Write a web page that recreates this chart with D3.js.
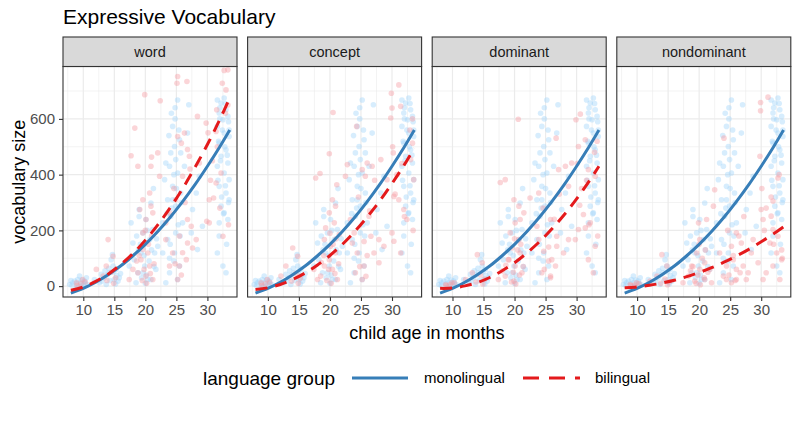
<!DOCTYPE html>
<html><head><meta charset="utf-8">
<script src="https://cdn.jsdelivr.net/npm/d3@7"></script>
<style>body{margin:0;background:#fff}svg{display:block;font-family:"Liberation Sans",Arial,sans-serif}</style>
</head><body><svg id="c" width="798" height="424"></svg>
<script>
const panels = ["word", "concept", "dominant", "nondominant"];
const xTicks = [10, 15, 20, 25, 30];
const yTicks = [0, 200, 400, 600];
const groups = ["monolingual", "bilingual"];

// fitted curves (age, vocabulary)
const fitAges = [8, 10, 12, 14, 16, 18, 20, 22, 24, 26, 28, 30, 32, 33.6];
const fitMono = [-25, -8, 14, 41, 72, 109, 150, 196, 247, 303, 364, 430, 500, 560];
const fitBiWord = [-15, -3, 17, 43, 77, 117, 165, 220, 281, 350, 426, 508, 598, 675];
const fitBiConcept = [-12, -6, 6, 24, 47, 76, 110, 150, 196, 248, 305, 368, 436, 495];
const fitBiDominant = [-8, -7, 1, 13, 31, 55, 84, 119, 159, 205, 256, 313, 376, 430];
const fitBiNondominant = [-6, -3, 3, 11, 21, 34, 49, 66, 86, 108, 132, 159, 188, 213];

// monolingual children (same in every panel): [age, vocabulary]
const monoPoints = [
 [7.8,6],[8.3,12],[9.1,24],[9.7,0],[10.2,18],[8.9,-6],[10.5,30],[9.4,36],
 [8.2,2],[8.6,18],[9.0,8],[9.5,14],[10.0,4],[10.3,10],[8.0,20],[9.8,22],[10.6,6],[9.2,-2],
 [11.8,24],[12.6,12],[13.4,30],[14.2,48],[14.8,72],[15.0,24],[14.5,95],[15.3,60],[13.7,6],[12.9,42],[15.6,18],[14.7,113],
 [13.0,18],[13.8,40],[14.3,20],[14.9,52],[15.4,38],[15.8,30],[14.1,64],[15.2,8],[13.5,55],[16.0,45],
 [17.7,227],[18.0,155],[18.2,95],[18.8,48],[19.3,119],[19.6,191],[19.9,72],[20.4,24],[20.7,167],[20.9,298],[21.2,203],[21.5,119],[21.7,60],[19.0,275],[18.5,12],[20.1,239],[22.0,143],[20.9,24],[19.6,48],[17.4,72],
 [18.6,180],[19.2,150],[19.8,110],[20.2,40],[20.6,90],[21.0,130],[21.4,70],[19.4,30],[18.9,130],[20.3,200],[21.8,170],[20.0,10],[19.0,250],[21.3,350],
 [25.2,668],[24.4,573],[24.7,501],[23.3,442],[23.9,430],[24.1,478],[24.9,454],[25.2,406],[23.1,382],[24.4,358],[23.6,310],[24.9,287],[25.7,334],[24.1,251],[22.8,227],[24.9,191],[23.6,167],[24.7,119],[22.8,119],[25.5,72],[23.9,48],[25.2,24],[23.3,12],[26.0,227],[27.0,651],[26.8,549],[25.5,525],[24.4,310],[25.7,478],[26.3,430],
 [24.2,620],[24.8,600],[25.4,560],[23.8,540],[24.6,400],[25.0,350],[24.3,280],[23.5,260],[25.3,220],[24.0,150],[24.6,90],[25.6,180],[23.9,100],[24.8,640],[25.8,300],
 [27.6,275],[28.2,334],[27.4,191],[28.7,394],[29.2,215],[28.4,131],
 [31.6,668],[32.2,657],[32.7,675],[33.0,633],[31.9,621],[33.3,609],[32.5,597],[31.6,573],[32.7,549],[33.5,537],[31.9,513],[33.0,489],[32.2,466],[33.3,442],[31.6,430],[32.7,406],[33.5,382],[31.9,358],[33.0,334],[32.2,287],[33.3,239],[32.5,72],[31.6,119],[33.0,48],[33.5,310],[31.9,227],[32.7,263],
 [32.0,640],[32.9,655],[33.4,590],[32.4,560],[31.8,520],[32.8,500],[33.2,470],[32.1,450],[31.7,380],[32.9,360],[33.4,300],[32.3,320],[31.9,180],[33.1,150],[32.6,260],[33.5,560],[32.0,600]
];

// bilingual children, one array per panel: [age, vocabulary]
const biWord = [
 [25.2,752],[26.7,734],[25.1,728],[32.7,774],[33.3,776],[32.4,728],[33.0,704],[19.9,687],[22.4,665],[18.3,567],[31.5,633],[28.4,609],[29.8,585],[31.4,555],
 [17.7,468],[21.0,463],[22.0,478],[20.9,430],[22.3,394],[26.8,490],[27.1,466],[25.2,537],[25.8,513],[26.3,549],[30.3,310],[29.9,233],[30.3,227],[32.5,179],[32.2,406],[31.4,370],[31.0,316],[28.7,442],
 [18.8,430],[19.6,310],[20.7,334],[20.9,287],[21.2,263],[19.1,275],[20.1,239],[19.6,191],[19.6,131],[20.4,119],[19.3,95],[20.7,72],[18.8,48],[20.1,36],[21.2,24],[17.4,24],[18.0,60],
 [14.0,167],[14.8,107],[13.7,72],[12.1,60],[13.2,36],[9.9,24],[8.9,12],
 [23.3,167],[24.4,119],[25.5,72],[23.9,72],[25.2,24],[26.8,155],[27.6,137],[26.6,95],[28.2,167],[27.4,215],[23.3,227],[23.9,263],[24.9,310],[26.0,394],[26.8,239],
 [19.5,20],[20.2,10],[20.8,45],[21.4,80],[19.0,110],[20.5,150],[21.0,180],[19.8,60],[18.6,90],[20.0,200],
 [13.8,20],[14.5,50],[15.2,30],[14.9,10],[9.0,2],[9.6,8],[10.3,15],
 [24.8,80],[26.0,120],[25.5,180],[26.4,300],[24.6,350],[27.2,420],[25.8,40],
 [30.8,450],[31.6,500],[32.9,620],[33.3,650],[30.5,380],[32.0,280],[33.4,220],[30.1,550]
];
const biConcept = [
 [31.1,722],[29.9,692],[30.0,639],[29.8,603],[31.4,645],[20.5,623],[24.3,573],[19.9,475],[18.4,404],[17.7,388],[21.1,364],[22.8,436],[22.5,394],[25.2,418],[26.0,442],[25.7,394],[26.8,430],[28.2,454],[29.2,382],[30.2,478],
 [30.3,322],[31.1,310],[31.9,275],[32.4,239],[30.0,191],[30.3,161],[31.4,119],[33.0,454],[33.3,513],[33.5,382],
 [20.4,310],[20.9,287],[19.9,263],[20.7,227],[19.3,209],[21.5,185],[19.1,167],[20.1,143],[20.9,119],[19.9,95],[19.1,72],[20.4,60],[18.5,36],[21.2,24],[17.4,60],[18.0,24],
 [14.0,137],[14.8,107],[12.9,72],[12.1,36],[9.9,24],[8.9,12],
 [23.6,155],[24.4,119],[25.5,72],[24.1,48],[25.2,24],[26.6,179],[27.1,119],[27.9,84],[28.7,143],[27.9,167],[23.3,239],[23.9,191],[26.3,251],
 [19.5,20],[20.2,10],[20.8,45],[21.4,80],[19.0,110],[20.5,150],[21.0,170],[19.8,60],[18.6,85],[20.0,190],
 [13.8,18],[14.5,45],[15.2,28],[14.9,10],[9.0,2],[9.6,8],[10.3,14],
 [24.8,70],[26.0,110],[25.5,160],[26.4,270],[24.6,320],[27.2,380],[25.8,35],
 [30.8,400],[31.6,440],[32.9,560],[33.3,600],[30.5,330],[32.0,250],[33.4,200],[30.1,500]
];
const biDominant = [
 [20.6,599],[30.6,617],[29.9,597],[26.7,531],[31.4,525],[27.1,418],[28.2,430],[29.2,442],[30.3,501],[31.9,418],[33.0,394],
 [17.7,372],[18.5,382],[19.9,310],[20.7,287],[20.9,239],[20.1,227],[21.5,263],[19.3,191],[20.7,167],[19.6,137],[20.9,119],[19.1,95],[20.1,72],[21.2,48],[18.5,36],[19.9,18],[17.4,24],[18.0,54],
 [14.0,113],[14.8,84],[13.2,48],[12.1,24],[9.9,12],[8.9,6],
 [22.5,316],[23.6,215],[23.9,167],[24.7,125],[25.5,90],[24.4,48],[25.8,36],[26.6,72],[26.8,143],[26.8,179],[27.9,119],[28.7,167],[25.8,239],[29.8,167],[30.3,203],[31.4,209],[32.2,227],[33.0,143],[31.9,95],[32.7,48],[31.1,257],[23.9,334],[28.7,358],
 [19.5,15],[20.2,8],[20.8,40],[21.4,70],[19.0,95],[20.5,130],[21.0,150],[19.8,50],[18.6,75],[20.0,170],
 [13.8,15],[14.5,40],[15.2,25],[14.9,8],[9.0,2],[9.6,6],[10.3,12],
 [24.8,60],[26.0,95],[25.5,140],[26.4,240],[24.6,280],[27.2,330],[25.8,30],
 [30.8,350],[31.6,380],[32.9,480],[33.3,520],[30.5,290],[32.0,220],[33.4,180],[30.1,440]
];
const biNondominant = [
 [31.1,678],[29.9,659],[29.9,629],[24.0,531],[29.8,466],[32.7,388],[31.9,305],[30.0,275],[31.6,251],[30.3,239],[31.9,203],[32.7,179],[31.4,155],[32.5,119],[33.3,95],[31.9,72],[30.8,48],[33.0,24],[30.3,24],
 [29.5,84],[28.7,167],[28.4,119],[27.1,72],[27.6,24],[26.6,48],[25.5,95],[24.4,72],[23.9,36],[25.2,12],
 [22.5,346],[22.3,287],[21.2,239],[19.9,227],[20.1,167],[19.6,119],[20.9,84],[20.1,60],[18.8,72],[18.3,36],[19.3,18],[20.9,24],[17.4,12],[21.7,60],
 [14.0,113],[14.8,72],[13.2,36],[12.1,18],[9.9,12],[8.9,6],
 [26.0,191],[25.2,143],[26.8,155],[23.3,119],[24.4,24],[22.0,12],[27.9,48],[26.0,24],
 [19.5,10],[20.2,5],[20.8,30],[21.4,50],[19.0,70],[20.5,100],[21.0,130],[19.8,40],[18.6,55],[20.0,150],
 [13.8,10],[14.5,25],[15.2,15],[14.9,5],[9.0,2],[9.6,4],[10.3,8],
 [24.8,40],[26.0,60],[25.5,110],[26.4,180],[24.6,200],[27.2,250],[25.8,20],
 [30.8,280],[31.6,320],[32.9,400],[33.3,130],[30.5,200],[32.0,150],[33.4,100],[30.1,350]
];

const biPointsByPanel = [biWord, biConcept, biDominant, biNondominant];
const biFitByPanel = [fitBiWord, fitBiConcept, fitBiDominant, fitBiNondominant];

const monoColor = "#377EB8", biColor = "#E41A1C";
const monoPt = "#9fd3fb", biPt = "#f59ba3";

const svg = d3.select("#c");
const panelW = 174, panelTop = 66.5, panelBot = 297, stripTop = 37;
const panelStep = 184.6, firstLeft = 63;
const FONT = "Liberation Sans, Arial, sans-serif";

svg.append("text").attr("x", firstLeft).attr("y", 24).attr("font-size", 21)
  .attr("fill", "#000").text("Expressive Vocabulary");

const y = d3.scaleLinear().domain([-39, 788]).range([panelBot, panelTop]);

panels.forEach((name, i) => {
  const left = firstLeft + i * panelStep;
  const x = d3.scaleLinear().domain([6.73, 34.77]).range([left, left + panelW]);
  const g = svg.append("g");
  g.append("rect").attr("x", left).attr("y", panelTop).attr("width", panelW).attr("height", panelBot - panelTop).attr("fill", "#fff");
  [7.5, 12.5, 17.5, 22.5, 27.5, 32.5].forEach(v => g.append("line").attr("x1", x(v)).attr("x2", x(v)).attr("y1", panelTop).attr("y2", panelBot).attr("stroke", "#ebebeb").attr("stroke-width", 0.6));
  [100, 300, 500, 700].forEach(v => g.append("line").attr("x1", left).attr("x2", left + panelW).attr("y1", y(v)).attr("y2", y(v)).attr("stroke", "#ebebeb").attr("stroke-width", 0.6));
  xTicks.forEach(v => g.append("line").attr("x1", x(v)).attr("x2", x(v)).attr("y1", panelTop).attr("y2", panelBot).attr("stroke", "#ebebeb").attr("stroke-width", 1.2));
  yTicks.forEach(v => g.append("line").attr("x1", left).attr("x2", left + panelW).attr("y1", y(v)).attr("y2", y(v)).attr("stroke", "#ebebeb").attr("stroke-width", 1.2));

  const clip = "clip" + i;
  svg.append("clipPath").attr("id", clip).append("rect").attr("x", left).attr("y", panelTop).attr("width", panelW).attr("height", panelBot - panelTop);
  const pg = g.append("g").attr("clip-path", `url(#${clip})`);
  pg.selectAll("circle.m").data(monoPoints).join("circle").attr("class", "m")
    .attr("cx", d => x(d[0])).attr("cy", d => y(d[1])).attr("r", 2.8).attr("fill", monoPt).attr("fill-opacity", 0.42);
  pg.selectAll("circle.b").data(biPointsByPanel[i]).join("circle").attr("class", "b")
    .attr("cx", d => x(d[0])).attr("cy", d => y(d[1])).attr("r", 2.8).attr("fill", biPt).attr("fill-opacity", 0.42);

  const line = d3.line().x(d => x(d[0])).y(d => y(d[1])).curve(d3.curveCatmullRom);
  pg.append("path").datum(fitAges.map((a, k) => [a, fitMono[k]])).attr("d", line)
    .attr("fill", "none").attr("stroke", monoColor).attr("stroke-width", 3);
  pg.append("path").datum(fitAges.map((a, k) => [a, biFitByPanel[i][k]])).attr("d", line)
    .attr("fill", "none").attr("stroke", biColor).attr("stroke-width", 3).attr("stroke-dasharray", "12,8");

  g.append("rect").attr("x", left).attr("y", panelTop).attr("width", panelW).attr("height", panelBot - panelTop)
    .attr("fill", "none").attr("stroke", "#333").attr("stroke-width", 1.1);
  g.append("rect").attr("x", left).attr("y", stripTop).attr("width", panelW).attr("height", panelTop - stripTop)
    .attr("fill", "#d9d9d9").attr("stroke", "#333").attr("stroke-width", 1.1);
  g.append("text").attr("x", left + panelW / 2).attr("y", (stripTop + panelTop) / 2 + 5).attr("text-anchor", "middle")
    .attr("font-size", 14.5).attr("fill", "#1a1a1a").text(name);

  const ax = g.append("g").attr("transform", `translate(0,${panelBot})`)
    .call(d3.axisBottom(x).tickValues(xTicks).tickSize(4).tickPadding(3));
  ax.select(".domain").remove();
  ax.selectAll("line").attr("stroke", "#333").attr("stroke-width", 1.1);
  ax.selectAll("text").attr("font-size", 15).attr("fill", "#4d4d4d").attr("font-family", FONT);
});

const ay = svg.append("g").attr("transform", `translate(${firstLeft},0)`)
  .call(d3.axisLeft(y).tickValues(yTicks).tickSize(4).tickPadding(4));
ay.select(".domain").remove();
ay.selectAll("line").attr("stroke", "#333").attr("stroke-width", 1.1);
ay.selectAll("text").attr("font-size", 15).attr("fill", "#4d4d4d").attr("font-family", FONT);

svg.append("text").attr("transform", `translate(25,${(panelTop + panelBot) / 2}) rotate(-90)`)
  .attr("text-anchor", "middle").attr("font-size", 18).attr("fill", "#000").text("vocabulary size");
svg.append("text").attr("x", (firstLeft + firstLeft + 3 * panelStep + panelW) / 2).attr("y", 339)
  .attr("text-anchor", "middle").attr("font-size", 18).attr("fill", "#000").text("child age in months");

const ly = 378;
svg.append("text").attr("x", 203).attr("y", ly + 6.5).attr("font-size", 19).attr("fill", "#000").text("language group");
svg.append("line").attr("x1", 352).attr("x2", 408).attr("y1", ly).attr("y2", ly).attr("stroke", monoColor).attr("stroke-width", 3);
svg.append("text").attr("x", 424).attr("y", ly + 5).attr("font-size", 15).attr("fill", "#000").text(groups[0]);
svg.append("line").attr("x1", 523).attr("x2", 580).attr("y1", ly).attr("y2", ly).attr("stroke", biColor).attr("stroke-width", 3).attr("stroke-dasharray", "16,10");
svg.append("text").attr("x", 595).attr("y", ly + 5).attr("font-size", 15).attr("fill", "#000").text(groups[1]);
</script></body></html>
